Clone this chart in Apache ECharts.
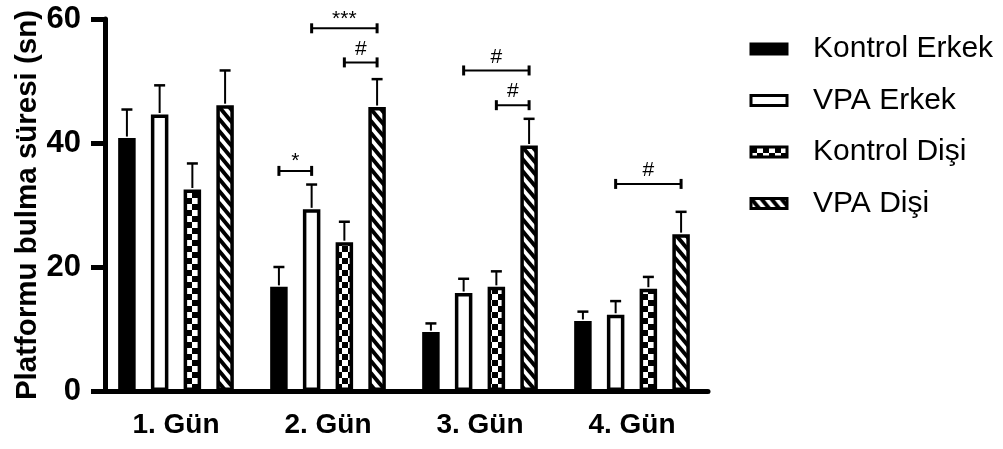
<!DOCTYPE html>
<html>
<head>
<meta charset="utf-8">
<script src="https://cdn.jsdelivr.net/npm/echarts@6/dist/echarts.min.js"></script>
<style>
  html, body { margin: 0; padding: 0; background: #fff; }
  #chart { width: 1003px; height: 449px; }
</style>
</head>
<body>
<div id="chart"></div>
<script>
// Days of the test
const categories = ['1. Gün', '2. Gün', '3. Gün', '4. Gün'];
const seriesNames = ['Kontrol Erkek', 'VPA Erkek', 'Kontrol Dişi', 'VPA Dişi'];

// Mean time to find the platform (s)
const kontrolErkek = [40.8, 16.8, 9.5, 11.3];
const vpaErkek     = [44.6, 29.3, 15.8, 12.3];
const kontrolDisi  = [32.5, 24.0, 16.8, 16.5];
const vpaDisi      = [46.1, 45.8, 39.6, 25.3];

// Standard error of the mean (upper whisker only)
const kontrolErkekSem = [4.6, 3.2, 1.4, 1.5];
const vpaErkekSem     = [4.7, 4.0, 2.3, 2.2];
const kontrolDisiSem  = [4.2, 3.3, 2.5, 1.9];
const vpaDisiSem      = [5.6, 4.5, 4.3, 3.6];

// Value axis ticks
const yTicks = [0, 20, 40, 60];

// Significance brackets: day index, from group, to group, height, mark
const sigDay   = [1, 1, 1, 2, 2, 3];
const sigFrom  = [0, 1, 2, 1, 2, 1];
const sigTo    = [1, 3, 3, 3, 3, 3];
const sigY     = [35.5, 58.5, 53.0, 51.7, 46.1, 33.4];
const sigLabel = ['*', '***', '#', '#', '#', '#'];

const means = [kontrolErkek, vpaErkek, kontrolDisi, vpaDisi];
const sems  = [kontrolErkekSem, vpaErkekSem, kontrolDisiSem, vpaDisiSem];

const FONT = "'Liberation Sans', Arial, Helvetica, sans-serif";
const BAR_WIDTH = 17.5;
const BAR_BORDER = 3.5;
const BAR_GAP = 0.87;
const BAR_STEP = BAR_WIDTH * (1 + BAR_GAP);
const groupCount = seriesNames.length;
function barOffset(i) { return (i - (groupCount - 1) / 2) * BAR_STEP; }

// Fill patterns
function checkerPattern(size) {
  const c = document.createElement('canvas');
  c.width = c.height = size * 2;
  const g = c.getContext('2d');
  g.fillStyle = '#fff'; g.fillRect(0, 0, size * 2, size * 2);
  g.fillStyle = '#000';
  g.fillRect(0, 0, size, size);
  g.fillRect(size, size, size, size);
  return c;
}
function stripePattern(w, h, lw) {
  const c = document.createElement('canvas');
  c.width = w; c.height = h;
  const g = c.getContext('2d');
  g.fillStyle = '#fff'; g.fillRect(0, 0, w, h);
  g.strokeStyle = '#000'; g.lineWidth = lw;
  for (let k = -2; k <= 2; k++) {
    g.beginPath();
    g.moveTo(-w, k * h - h);
    g.lineTo(2 * w, k * h + 2 * h);
    g.stroke();
  }
  return c;
}

const fills = [
  '#000',
  '#fff',
  { image: checkerPattern(6), repeat: 'repeat' },
  { image: stripePattern(10, 12, 4), repeat: 'repeat' }
];

const barSeries = seriesNames.map((name, i) => ({
  name: name,
  type: 'bar',
  data: means[i],
  barWidth: BAR_WIDTH,
  barGap: (BAR_GAP * 100) + '%',
  itemStyle: { color: fills[i], borderColor: '#000', borderWidth: BAR_BORDER },
  emphasis: { disabled: true },
  z: 2
}));

const errorRows = [];
means.forEach((m, s) => m.forEach((v, c) => errorRows.push([c, s, v, v + sems[s][c]])));

const sigRows = sigDay.map((d, i) => [d, sigFrom[i], sigTo[i], sigY[i]]);

const chart = echarts.init(document.getElementById('chart'), null, { renderer: 'canvas' });
chart.setOption({
  animation: false,
  backgroundColor: '#fff',
  grid: { left: 100, top: 19, width: 608, height: 372, containLabel: false },
  legend: {
    orient: 'vertical',
    left: 749.5,
    top: 34,
    padding: 0,
    itemWidth: 36,
    itemHeight: 10,
    itemGap: 21.5,
    icon: 'rect',
    selectedMode: false,
    data: seriesNames,
    itemStyle: { borderWidth: 3 },
    textStyle: { fontFamily: FONT, fontSize: 30, color: '#000', padding: [0, 0, 0, 21] }
  },
  xAxis: {
    type: 'category',
    data: categories,
    axisLine: { lineStyle: { color: '#000', width: 5 } },
    axisTick: { alignWithLabel: true, length: 15, lineStyle: { color: '#000', width: 5 } },
    axisLabel: { fontFamily: FONT, fontWeight: 'bold', fontSize: 28, color: '#000', margin: 20 }
  },
  yAxis: {
    type: 'value',
    min: yTicks[0],
    max: yTicks[yTicks.length - 1],
    interval: yTicks[1] - yTicks[0],
    offset: -5,
    name: 'Platformu bulma süresi (sn)',
    nameLocation: 'middle',
    nameGap: 62,
    nameRotate: 90,
    nameMoveOverlap: false,
    nameTextStyle: { fontFamily: FONT, fontWeight: 'bold', fontSize: 29.5, color: '#000' },
    splitLine: { show: false },
    axisLine: { show: true, lineStyle: { color: '#000', width: 5 } },
    axisTick: { show: true, length: 14, lineStyle: { color: '#000', width: 5 } },
    axisLabel: { fontFamily: FONT, fontWeight: 'bold', fontSize: 31, color: '#000', margin: 24 }
  },
  series: barSeries.concat([
    {
      type: 'custom',
      name: 'sem',
      data: errorRows,
      encode: { x: 0, y: [2, 3] },
      z: 3,
      silent: true,
      renderItem: function (params, api) {
        const c = api.value(0);
        const s = api.value(1);
        const base = api.coord([c, api.value(2)]);
        const top = api.coord([c, api.value(3)]);
        const x = base[0] + barOffset(s);
        return {
          type: 'group',
          children: [
            { type: 'line', shape: { x1: x, y1: base[1] - 1.5, x2: x, y2: top[1] }, style: { stroke: '#000', lineWidth: 2 } },
            { type: 'line', shape: { x1: x - 5.5, y1: top[1], x2: x + 5.5, y2: top[1] }, style: { stroke: '#000', lineWidth: 2.5 } }
          ]
        };
      }
    },
    {
      type: 'custom',
      name: 'sig',
      data: sigRows,
      encode: { x: 0, y: 3 },
      z: 4,
      silent: true,
      renderItem: function (params, api) {
        const d = api.value(0);
        const p = api.coord([d, api.value(3)]);
        const x1 = p[0] + barOffset(api.value(1));
        const x2 = p[0] + barOffset(api.value(2));
        const y = p[1];
        const label = sigLabel[params.dataIndex];
        const star = label.indexOf('*') >= 0;
        return {
          type: 'group',
          children: [
            { type: 'line', shape: { x1: x1, y1: y, x2: x2, y2: y }, style: { stroke: '#000', lineWidth: 2 } },
            { type: 'line', shape: { x1: x1, y1: y - 5, x2: x1, y2: y + 5 }, style: { stroke: '#000', lineWidth: 3 } },
            { type: 'line', shape: { x1: x2, y1: y - 5, x2: x2, y2: y + 5 }, style: { stroke: '#000', lineWidth: 3 } },
            {
              type: 'text',
              style: {
                text: label,
                x: (x1 + x2) / 2,
                y: star ? y + 1 : y - 3,
                align: 'center',
                verticalAlign: 'bottom',
                font: '21px ' + FONT,
                fill: '#000'
              }
            }
          ]
        };
      }
    }
  ])
});
</script>
</body>
</html>
